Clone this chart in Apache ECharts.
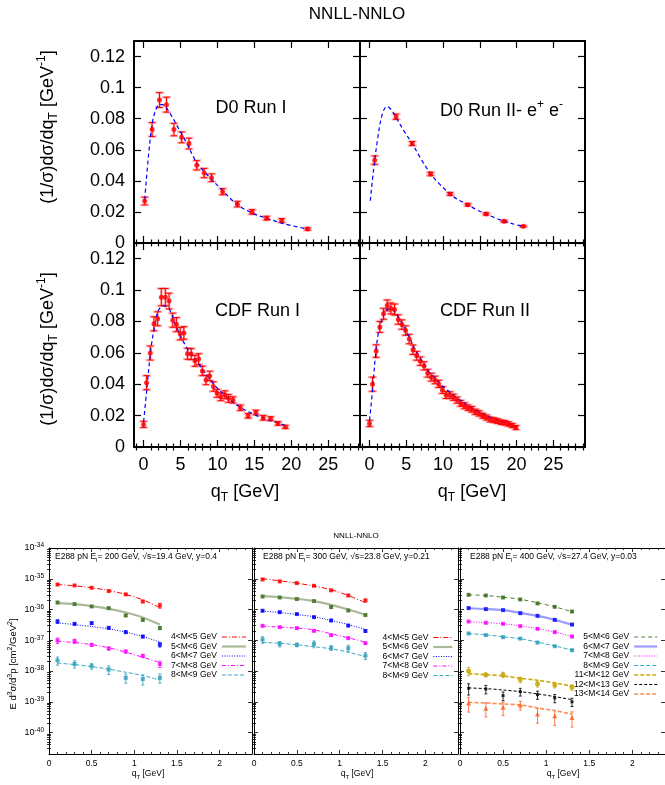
<!DOCTYPE html>
<html><head><meta charset="utf-8">
<script src="https://cdn.jsdelivr.net/npm/echarts@6/dist/echarts.min.js"></script>
<style>html,body{margin:0;padding:0;background:#fff}#c{width:665px;height:785px}</style>
</head><body><div id="c"></div>
<script>
// ---------------- top figure data ----------------
const topXMajor = [0, 5, 10, 15, 20, 25];
const topXMinor = [-1, 1, 2, 3, 4, 6, 7, 8, 9, 11, 12, 13, 14, 16, 17, 18, 19, 21, 22, 23, 24, 26, 27, 28, 29];
const topYMajor = [0, 0.02, 0.04, 0.06, 0.08, 0.1, 0.12];

const d0r1Q   = [0.15, 1.15, 2.15, 3.1, 4.1, 5.15, 6.15, 7.2, 8.2, 9.2, 10.7, 12.7, 14.7, 16.65, 18.7, 22.2];
const d0r1Y   = [0.027, 0.073, 0.092, 0.089, 0.073, 0.068, 0.064, 0.050, 0.045, 0.042, 0.033, 0.025, 0.020, 0.016, 0.0145, 0.009];
const d0r1Err = [0.0025, 0.0045, 0.0048, 0.0048, 0.004, 0.0035, 0.0035, 0.003, 0.003, 0.0025, 0.002, 0.0018, 0.0015, 0.0012, 0.0012, 0.0008];
const d0r1ThQ = [0.15, 0.7, 1.2, 1.6, 2.1, 2.6, 3.5, 4.65, 5.8, 7.15, 8.2, 9.4, 10.75, 12.6, 14.8, 16.65, 18.9, 22.2];
const d0r1ThY = [0.028, 0.058, 0.0777, 0.085, 0.089, 0.089, 0.084, 0.0744, 0.0646, 0.052, 0.046, 0.040, 0.0335, 0.025, 0.019, 0.016, 0.0125, 0.009];

const d0r2Q   = [0.7, 3.6, 5.8, 8.3, 10.95, 13.35, 15.85, 18.3, 20.9];
const d0r2Y   = [0.0533, 0.0813, 0.064, 0.0444, 0.0316, 0.0246, 0.0187, 0.014, 0.0107];
const d0r2Err = [0.0027, 0.0017, 0.0013, 0.0011, 0.0009, 0.0008, 0.0007, 0.0006, 0.0005];
const d0r2ThQ = [0.1, 0.54, 1.09, 1.68, 2.36, 3.04, 3.72, 4.7, 5.79, 7.0, 8.33, 9.5, 10.95, 12.0, 13.35, 14.5, 15.83, 17.0, 18.32, 19.5, 20.9];
const d0r2ThY = [0.0272, 0.047, 0.0668, 0.082, 0.0879, 0.0853, 0.0798, 0.072, 0.064, 0.054, 0.0444, 0.038, 0.0316, 0.028, 0.0246, 0.0215, 0.0187, 0.0163, 0.014, 0.0123, 0.0107];

const cdf1Q   = [0, 0.4, 0.9, 1.4, 1.9, 2.4, 2.95, 3.45, 3.95, 4.45, 4.95, 5.45, 5.95, 6.45, 6.95, 7.45, 7.95, 8.45, 8.95, 9.45, 9.95, 10.45, 11, 11.5, 12.1, 13.1, 14.15, 15.2, 16.2, 17.2, 18.2, 19.2];
const cdf1Y   = [0.0144, 0.041, 0.0599, 0.0785, 0.0817, 0.0955, 0.0955, 0.093, 0.0808, 0.078, 0.0722, 0.0727, 0.0594, 0.0592, 0.0549, 0.056, 0.0485, 0.0427, 0.0453, 0.0385, 0.0342, 0.032, 0.0333, 0.031, 0.030, 0.025, 0.0199, 0.022, 0.0186, 0.018, 0.015, 0.0128];
const cdf1Err = [0.002, 0.0045, 0.0045, 0.0045, 0.0045, 0.0055, 0.0055, 0.005, 0.0045, 0.0045, 0.004, 0.004, 0.0035, 0.0035, 0.0035, 0.0035, 0.003, 0.003, 0.003, 0.003, 0.0025, 0.0025, 0.0025, 0.0025, 0.002, 0.0018, 0.0015, 0.0015, 0.0015, 0.0013, 0.0012, 0.001];
const cdf1ThQ = [0, 0.4, 1.0, 1.5, 1.95, 2.6, 3.0, 3.5, 4.4, 5.8, 7.6, 9.4, 11.2, 13.0, 15.3, 17.1, 19.1];
const cdf1ThY = [0.016, 0.035, 0.063, 0.077, 0.0865, 0.090, 0.0895, 0.0876, 0.077, 0.0637, 0.052, 0.0406, 0.032, 0.0256, 0.020, 0.017, 0.0139];

const cdf2Q   = [0, 0.4, 0.9, 1.4, 1.9, 2.4, 2.9, 3.4, 3.9, 4.4, 4.9, 5.4, 5.9, 6.4, 6.9, 7.4, 7.9, 8.4, 8.9, 9.4, 9.9, 10.4, 10.9, 11.4, 11.9, 12.4, 12.9, 13.4, 13.9, 14.4, 14.9, 15.4, 15.9, 16.4, 16.9, 17.4, 17.9, 18.4, 18.9, 19.4, 19.9];
const cdf2Y   = [0.015, 0.040, 0.0611, 0.0765, 0.0849, 0.0902, 0.0883, 0.0876, 0.0812, 0.078, 0.0742, 0.0688, 0.062, 0.0581, 0.0547, 0.0517, 0.047, 0.0445, 0.0427, 0.0402, 0.0363, 0.0331, 0.0331, 0.0317, 0.0299, 0.0278, 0.0263, 0.025, 0.024, 0.0224, 0.0214, 0.0199, 0.0188, 0.0175, 0.0171, 0.0165, 0.0158, 0.0154, 0.0147, 0.0137, 0.0124];
const cdf2Err = [0.002, 0.0045, 0.004, 0.0035, 0.0035, 0.0035, 0.0035, 0.0035, 0.003, 0.003, 0.003, 0.003, 0.003, 0.0028, 0.0027, 0.0026, 0.0025, 0.0025, 0.0024, 0.0023, 0.0022, 0.0022, 0.0021, 0.002, 0.002, 0.0019, 0.0019, 0.0018, 0.0018, 0.0017, 0.0017, 0.0016, 0.0016, 0.0015, 0.0015, 0.0015, 0.0014, 0.0014, 0.0014, 0.0013, 0.0013];
const cdf2ThQ = [0, 0.4, 0.8, 1.2, 1.7, 2.3, 2.8, 3.4, 4.0, 4.5, 5, 5.5, 6, 7, 8, 9, 10, 11, 12, 13, 14, 15, 16, 17, 18, 19, 20];
const cdf2ThY = [0.017, 0.036, 0.058, 0.0727, 0.081, 0.0876, 0.088, 0.0865, 0.082, 0.078, 0.0735, 0.069, 0.064, 0.056, 0.0485, 0.0435, 0.0385, 0.0345, 0.031, 0.0275, 0.0245, 0.0222, 0.0198, 0.0178, 0.016, 0.0145, 0.0127];

// ---------------- bottom figure (E288) data ----------------
const botXMajor = [0, 0.5, 1, 1.5, 2];
const botXMinor = [0.1, 0.2, 0.3, 0.4, 0.6, 0.7, 0.8, 0.9, 1.1, 1.2, 1.3, 1.4, 1.6, 1.7, 1.8, 1.9, 2.1, 2.2, 2.3];
const botYDecades = [-40, -39, -38, -37, -36, -35, -34];   // tick labels 10^n
const e288Q = [0.1, 0.3, 0.5, 0.7, 0.9, 1.1, 1.3];

// E_l = 200 GeV
const e200M45 = [6.5e-36, 6.05e-36, 5.1e-36, 3.98e-36, 3.1e-36, 1.82e-36, 1.35e-36];
const e200M45Err = [4e-37, 3e-37, 2.5e-37, 2e-37, 1.8e-37, 1.5e-37, 2.5e-37];
const e200M45Th = [6.5e-36, 5.9e-36, 5.1e-36, 4.16e-36, 3.09e-36, 2.07e-36, 1.14e-36];
const e200M56 = [1.69e-36, 1.5e-36, 1.26e-36, 1.11e-36, 6.4e-37, 4.6e-37, 2.5e-37];
const e200M56Err = [1e-37, 8e-38, 7e-38, 6e-38, 5e-38, 4e-38, 3e-38];
const e200M56Th = [1.62e-36, 1.5e-36, 1.29e-36, 1.05e-36, 7.98e-37, 5.5e-37, 3.24e-37];
const e200M67 = [4.07e-37, 3.4e-37, 3.6e-37, 2.53e-37, 1.84e-37, 1.32e-37, 7.2e-38];
const e200M67Err = [5e-38, 2.5e-38, 3e-38, 2e-38, 1.6e-38, 1.2e-38, 1.2e-38];
const e200M67Th = [3.69e-37, 3.24e-37, 2.79e-37, 2.35e-37, 1.84e-37, 1.32e-37, 8.7e-38];
const e200M78 = [9.8e-38, 9.3e-38, 7.1e-38, 5.4e-38, 4.3e-38, 3.1e-38, 1.7e-38];
const e200M78Err = [2e-38, 1.5e-38, 8e-39, 6e-39, 5e-39, 4e-39, 4e-39];
const e200M78Th = [9.3e-38, 8.4e-38, 7.2e-38, 5.7e-38, 4.1e-38, 2.8e-38, 1.9e-38];
const e200M89 = [2.2e-38, 1.7e-38, 1.44e-38, 1.12e-38, 6e-39, 5.5e-39, 6e-39];
const e200M89Err = [6.5e-39, 4.5e-39, 3e-39, 3.5e-39, 2e-39, 2e-39, 2e-39];
const e200M89Th = [1.8e-38, 1.62e-38, 1.39e-38, 1.15e-38, 9.1e-39, 7.1e-39, 5.1e-39];

// E_l = 300 GeV
const e300M45 = [9.5e-36, 8.2e-36, 7.2e-36, 5.9e-36, 4.2e-36, 2.86e-36, 1.96e-36];
const e300M45Err = [5e-37, 4e-37, 3e-37, 3e-37, 2.5e-37, 2e-37, 2e-37];
const e300M45Th = [1.0e-35, 8.6e-36, 7.2e-36, 5.8e-36, 4.4e-36, 2.86e-36, 1.66e-36];
const e300M56 = [2.65e-36, 2.46e-36, 2.19e-36, 1.88e-36, 1.2e-36, 9.3e-37, 6.6e-37];
const e300M56Err = [1.2e-37, 1e-37, 1e-37, 9e-38, 8e-38, 6e-38, 4e-38];
const e300M56Th = [2.73e-36, 2.54e-36, 2.23e-36, 1.88e-36, 1.42e-36, 1.0e-36, 6.7e-37];
const e300M67 = [9.1e-37, 8.2e-37, 7.1e-37, 5.65e-37, 4.4e-37, 3.0e-37, 2.0e-37];
const e300M67Err = [4e-38, 4e-38, 3e-38, 3e-38, 2.5e-38, 2e-38, 1.5e-38];
const e300M67Th = [8.9e-37, 8.0e-37, 6.9e-37, 5.8e-37, 4.4e-37, 3.24e-37, 2.24e-37];
const e300M78 = [2.95e-37, 2.67e-37, 2.48e-37, 2.02e-37, 1.47e-37, 1.17e-37, 8.05e-38];
const e300M78Err = [1.5e-38, 1.2e-38, 1.2e-38, 1e-38, 8e-39, 7e-39, 6e-39];
const e300M78Th = [2.88e-37, 2.67e-37, 2.48e-37, 2.19e-37, 1.62e-37, 1.2e-37, 8.7e-38];
const e300M89 = [1.05e-37, 7.6e-38, 7.1e-38, 7.6e-38, 5.65e-38, 5.5e-38, 3.16e-38];
const e300M89Err = [2.5e-38, 1.5e-38, 1e-38, 1.9e-38, 1e-38, 1.4e-38, 8e-39];
const e300M89Th = [8.4e-38, 8.05e-38, 7.1e-38, 6.2e-38, 5.25e-38, 4.1e-38, 2.9e-38];

// E_l = 400 GeV
const e400M56 = [3.0e-36, 2.86e-36, 2.46e-36, 2.12e-36, 1.58e-36, 1.22e-36, 8.6e-37];
const e400M56Err = [1.2e-37, 1e-37, 1e-37, 9e-38, 7e-38, 6e-38, 5e-38];
const e400M56Th = [3.0e-36, 2.85e-36, 2.5e-36, 2.15e-36, 1.65e-36, 1.22e-36, 8.5e-37];
const e400M67 = [1.11e-36, 1.03e-36, 9.55e-37, 7.6e-37, 6.2e-37, 4.6e-37, 3.24e-37];
const e400M67Err = [4e-38, 4e-38, 3e-38, 3e-38, 2.5e-38, 2e-38, 1.5e-38];
const e400M67Th = [1.1e-36, 1.04e-36, 9.5e-37, 7.8e-37, 6.2e-37, 4.6e-37, 3.2e-37];
const e400M78 = [4.07e-37, 3.7e-37, 3.42e-37, 2.88e-37, 2.35e-37, 1.84e-37, 1.32e-37];
const e400M78Err = [1.5e-38, 1.5e-38, 1.2e-38, 1e-38, 1e-38, 8e-39, 6e-39];
const e400M78Th = [4.0e-37, 3.75e-37, 3.45e-37, 2.95e-37, 2.4e-37, 1.85e-37, 1.32e-37];
const e400M89 = [1.66e-37, 1.47e-37, 1.26e-37, 1.13e-37, 8.4e-38, 6.4e-38, 4.76e-38];
const e400M89Err = [6e-39, 6e-39, 5e-39, 5e-39, 4e-39, 3e-39, 2.5e-39];
const e400M89Th = [1.65e-37, 1.5e-37, 1.3e-37, 1.12e-37, 8.7e-38, 6.5e-38, 4.8e-38];
const e400M1112 = [1.0e-38, 7.5e-39, 7.6e-39, 5.25e-39, 3.8e-39, 3.5e-39, 2.96e-39];
const e400M1112Err = [3e-39, 1.1e-39, 1.5e-39, 1.1e-39, 8e-40, 7e-40, 6e-40];
const e400M1112Th = [8.2e-39, 7.6e-39, 6.9e-39, 5.8e-39, 5.0e-39, 4.1e-39, 3.2e-39];
const e400M1213 = [2.75e-39, 2.6e-39, 1.58e-39, 2.13e-39, 1.7e-39, 1.33e-39, 1.0e-39];
const e400M1213Err = [1.1e-39, 8e-40, 5e-40, 6e-40, 5e-40, 4e-40, 3e-40];
const e400M1213Th = [2.82e-39, 2.67e-39, 2.42e-39, 2.13e-39, 1.8e-39, 1.47e-39, 1.17e-39];
const e400M1314 = [9.1e-40, 6.2e-40, 6.6e-40, 7.9e-40, 4.0e-40, 3.5e-40, 3.1e-40];
const e400M1314Err = [4.5e-40, 3e-40, 3e-40, 2.5e-40, 2e-40, 1.8e-40, 1.6e-40];
const e400M1314Th = [9.6e-40, 9.1e-40, 8.5e-40, 7.85e-40, 6.3e-40, 5.1e-40, 4.0e-40];

// ---------------- build ----------------
const FONT = '"Liberation Sans", Arial, Helvetica, sans-serif';
const grids = [], xAxes = [], yAxes = [], series = [], legends = [];
function addGrid(r) { grids.push(Object.assign({containLabel: false}, r)); return grids.length - 1; }
function addX(o) { xAxes.push(o); return xAxes.length - 1; }
function addY(o) { yAxes.push(o); return yAxes.length - 1; }
const zip = (a, b) => a.map((v, i) => [v, b[i]]);

function panelAxes(rect, cfg) {
  const g = addGrid(rect);
  const lineOn = {show: true, onZero: false, lineStyle: {color: '#000', width: cfg.border}};
  const tk = (vals, len) => ({show: true, inside: true, length: len, customValues: vals, lineStyle: {color: '#000', width: cfg.tickW}});
  const hidden = {splitLine: {show: false}, axisLine: {show: false}, axisLabel: {show: false}, axisTick: {show: false}};
  const xb = Object.assign({gridIndex: g, type: 'value', min: cfg.xmin, max: cfg.xmax}, hidden);
  const xi = addX(Object.assign({}, xb, {position: 'bottom', axisLine: lineOn, axisTick: tk(cfg.xMaj, cfg.majLen),
    axisLabel: {show: cfg.showX, customValues: cfg.xMaj, color: '#000', fontSize: cfg.fs, fontFamily: FONT, margin: cfg.xMargin}}));
  addX(Object.assign({}, xb, {position: 'top', axisLine: lineOn, axisTick: tk(cfg.xMaj, cfg.majLen)}));
  addX(Object.assign({}, xb, {position: 'bottom', axisTick: tk(cfg.xMin, cfg.minLen)}));
  addX(Object.assign({}, xb, {position: 'top', axisTick: tk(cfg.xMin, cfg.minLen)}));
  let yi;
  if (cfg.dataY) yi = addY(Object.assign({gridIndex: g, position: 'left'}, cfg.dataY, hidden));
  const yb = Object.assign({gridIndex: g, type: 'value', min: cfg.ymin, max: cfg.ymax}, hidden);
  const yl = addY(Object.assign({}, yb, {position: 'left', axisLine: lineOn, axisTick: tk(cfg.yMaj, cfg.majLen),
    axisLabel: Object.assign({show: cfg.showY, customValues: cfg.yMaj, color: '#000', fontSize: cfg.fs, fontFamily: FONT, margin: cfg.yMargin}, cfg.yLabelExtra || {})}));
  if (!cfg.dataY) yi = yl;
  addY(Object.assign({}, yb, {position: 'right', axisLine: lineOn, axisTick: tk(cfg.yMaj, cfg.majLen)}));
  if (cfg.yMin) {
    addY(Object.assign({}, yb, {position: 'left', axisTick: tk(cfg.yMin, cfg.minLen)}));
    addY(Object.assign({}, yb, {position: 'right', axisTick: tk(cfg.yMin, cfg.minLen)}));
  }
  return {xi, yi};
}

function errSeries(ax, xs, ys, es, color, capW, lw, z, isLog) {
  return {type: 'custom', xAxisIndex: ax.xi, yAxisIndex: ax.yi, z: z, silent: true,
    data: xs.map((x, i) => {
      let lo = ys[i] - es[i];
      if (isLog && lo <= 0) lo = ys[i] * 0.05;
      return [x, lo, ys[i] + es[i]];
    }),
    encode: {x: 0, y: [1, 2]},
    renderItem: (p, api) => {
      const a = api.coord([api.value(0), api.value(1)]);
      const b = api.coord([api.value(0), api.value(2)]);
      const st = {stroke: color, lineWidth: lw, fill: null};
      return {type: 'group', children: [
        {type: 'line', shape: {x1: a[0], y1: a[1], x2: b[0], y2: b[1]}, style: st},
        {type: 'line', shape: {x1: a[0] - capW, y1: a[1], x2: a[0] + capW, y2: a[1]}, style: st},
        {type: 'line', shape: {x1: b[0] - capW, y1: b[1], x2: b[0] + capW, y2: b[1]}, style: st}
      ]};
    }};
}

// ---- top figure panels ----
const topCfg = (showX, showY) => ({xmin: -1.3, xmax: 29.3, ymin: 0, ymax: 0.13,
  xMaj: topXMajor, xMin: topXMinor, yMaj: topYMajor, yMin: null, showX, showY,
  border: 2, tickW: 1.2, majLen: 7, minLen: 3.5, fs: 18, xMargin: 9, yMargin: 9});
const pTL = panelAxes({left: 134, top: 41, width: 226, height: 202}, topCfg(false, true));
const pTR = panelAxes({left: 360, top: 41, width: 225, height: 202}, topCfg(false, false));
const pBL = panelAxes({left: 134, top: 243, width: 226, height: 204}, topCfg(true, true));
const pBR = panelAxes({left: 360, top: 243, width: 225, height: 204}, topCfg(true, false));

function topData(ax, q, y, e, tq, ty) {
  series.push(errSeries(ax, q, y, e, 'rgba(255,90,90,0.45)', 4.5, 2.5, 2, false));
  series.push(errSeries(ax, q, y, e, '#ff0000', 3, 1, 3, false));
  series.push({type: 'line', xAxisIndex: ax.xi, yAxisIndex: ax.yi, z: 4, data: zip(tq, ty), showSymbol: false, symbol: 'none', smooth: 0.35, silent: true,
    lineStyle: {color: '#0000ff', width: 1.2, type: [4, 3]}});
  series.push({type: 'scatter', xAxisIndex: ax.xi, yAxisIndex: ax.yi, z: 5, data: zip(q, y), symbol: 'circle', symbolSize: 5, silent: true,
    itemStyle: {color: '#ff0000'}});
}
topData(pTL, d0r1Q, d0r1Y, d0r1Err, d0r1ThQ, d0r1ThY);
topData(pTR, d0r2Q, d0r2Y, d0r2Err, d0r2ThQ, d0r2ThY);
topData(pBL, cdf1Q, cdf1Y, cdf1Err, cdf1ThQ, cdf1ThY);
topData(pBR, cdf2Q, cdf2Y, cdf2Err, cdf2ThQ, cdf2ThY);

// ---- bottom figure panels (log data axis + exponent axis for ticks/labels) ----
const Y_LO = 2e-41, Y_HI = 1e-34;
const yExpMinor = [];
for (let n = -41; n <= -35; n++) for (let k = 2; k <= 9; k++) {
  const v = Math.log10(k) + n; if (v > Math.log10(Y_LO) && v < -34) yExpMinor.push(v);
}
const botCfg = (showY) => ({xmin: 0, xmax: 2.38, ymin: Math.log10(Y_LO), ymax: Math.log10(Y_HI),
  dataY: {type: 'log', logBase: 10, min: Y_LO, max: Y_HI},
  xMaj: botXMajor, xMin: botXMinor, yMaj: botYDecades, yMin: yExpMinor, showX: true, showY,
  border: 1, tickW: 0.8, majLen: 4, minLen: 2, fs: 8.5, xMargin: 5, yMargin: 5,
  yLabelExtra: {formatter: v => '{b|10}{s|' + Math.round(v) + '}', rich: {
    b: {fontSize: 9, fontFamily: FONT, color: '#000', lineHeight: 12},
    s: {fontSize: 6.5, fontFamily: FONT, color: '#000', lineHeight: 6.5, verticalAlign: 'top'}}}});
const pE1 = panelAxes({left: 49, top: 548, width: 203, height: 206}, botCfg(true));
const pE2 = panelAxes({left: 254, top: 548, width: 204, height: 206}, botCfg(false));
const pE3 = panelAxes({left: 460, top: 548, width: 206, height: 206}, botCfg(false));

const ST = {
  red:       {pc: '#ff0000', lc: '#ff0000', lw: 1, lt: [5, 2, 1, 2], sym: 'rect', ss: 4},
  greenSol:  {pc: '#3b6e1c', lc: '#a9b99a', lw: 2.2, lt: 'solid', sym: 'rect', ss: 4},
  blueDot:   {pc: '#0000ff', lc: '#0000ff', lw: 1, lt: [1, 1.5], sym: 'rect', ss: 4},
  magDD:     {pc: '#ff00ff', lc: '#ff00ff', lw: 1, lt: [4, 2, 1, 2], sym: 'rect', ss: 4},
  cyanDash:  {pc: '#2b9cbc', lc: '#3aa6c6', lw: 1, lt: [4, 2], sym: 'rect', ss: 4},
  greenDash: {pc: '#3b6e1c', lc: '#4e7d32', lw: 1, lt: [4, 3], sym: 'rect', ss: 4},
  blueSol:   {pc: '#0000ff', lc: '#9a9aff', lw: 2.2, lt: 'solid', sym: 'rect', ss: 4},
  magDot:    {pc: '#ff00ff', lc: '#ff00ff', lw: 1, lt: [1, 1.5], sym: 'rect', ss: 4},
  gold:      {pc: '#c2a400', lc: '#c8aa10', lw: 1.6, lt: [4, 2], sym: 'circle', ss: 5},
  black:     {pc: '#000000', lc: '#000000', lw: 1, lt: [3, 2], sym: 'rect', ss: 3},
  orange:    {pc: '#ff5a1f', lc: '#ff8a50', lw: 1.6, lt: [4, 2], sym: 'triangle', ss: 5}
};

function e288Set(ax, tag, name, vals, errs, th, st) {
  const nm = name + '#' + tag;
  series.push(errSeries(ax, e288Q, vals, errs, st.pc, 1.5, 0.8, 2, true));
  series.push({type: 'line', name: nm, xAxisIndex: ax.xi, yAxisIndex: ax.yi, z: 3, data: zip(e288Q, th), showSymbol: false, symbol: 'none', smooth: 0.3, silent: true,
    lineStyle: {color: st.lc, width: st.lw, type: st.lt}, itemStyle: {color: st.lc}});
  series.push({type: 'scatter', xAxisIndex: ax.xi, yAxisIndex: ax.yi, z: 4, data: zip(e288Q, vals), symbol: st.sym, symbolSize: st.ss, silent: true,
    itemStyle: {color: st.pc}});
  return nm;
}
const L1 = [
  e288Set(pE1, 'a', '4<M<5 GeV', e200M45, e200M45Err, e200M45Th, ST.red),
  e288Set(pE1, 'a', '5<M<6 GeV', e200M56, e200M56Err, e200M56Th, ST.greenSol),
  e288Set(pE1, 'a', '6<M<7 GeV', e200M67, e200M67Err, e200M67Th, ST.blueDot),
  e288Set(pE1, 'a', '7<M<8 GeV', e200M78, e200M78Err, e200M78Th, ST.magDD),
  e288Set(pE1, 'a', '8<M<9 GeV', e200M89, e200M89Err, e200M89Th, ST.cyanDash)];
const L2 = [
  e288Set(pE2, 'b', '4<M<5 GeV', e300M45, e300M45Err, e300M45Th, ST.red),
  e288Set(pE2, 'b', '5<M<6 GeV', e300M56, e300M56Err, e300M56Th, ST.greenSol),
  e288Set(pE2, 'b', '6<M<7 GeV', e300M67, e300M67Err, e300M67Th, ST.blueDot),
  e288Set(pE2, 'b', '7<M<8 GeV', e300M78, e300M78Err, e300M78Th, ST.magDD),
  e288Set(pE2, 'b', '8<M<9 GeV', e300M89, e300M89Err, e300M89Th, ST.cyanDash)];
const L3 = [
  e288Set(pE3, 'c', '5<M<6 GeV', e400M56, e400M56Err, e400M56Th, ST.greenDash),
  e288Set(pE3, 'c', '6<M<7 GeV', e400M67, e400M67Err, e400M67Th, ST.blueSol),
  e288Set(pE3, 'c', '7<M<8 GeV', e400M78, e400M78Err, e400M78Th, ST.magDot),
  e288Set(pE3, 'c', '8<M<9 GeV', e400M89, e400M89Err, e400M89Th, ST.cyanDash),
  e288Set(pE3, 'c', '11<M<12 GeV', e400M1112, e400M1112Err, e400M1112Th, ST.gold),
  e288Set(pE3, 'c', '12<M<13 GeV', e400M1213, e400M1213Err, e400M1213Th, ST.black),
  e288Set(pE3, 'c', '13<M<14 GeV', e400M1314, e400M1314Err, e400M1314Th, ST.orange)];

function legendAt(names, right, top, iw) {
  return {data: names, orient: 'vertical', right: right, top: top, align: 'right', padding: 0,
    itemWidth: iw, itemHeight: 8, itemGap: 0.5, selectedMode: false, formatter: n => n.split('#')[0],
    textStyle: {fontSize: 8.5, fontFamily: FONT, color: '#000', lineHeight: 8, padding: 0},
    itemStyle: {opacity: 0, borderWidth: 0},
    lineStyle: {width: 'inherit', type: 'inherit', opacity: 1}};
}
legends.push(legendAt(L1, 418, 632.5, 24));
legends.push(legendAt(L2, 211.5, 633, 19));
legends.push(legendAt(L3, 6.7, 632.5, 23));

// ---- texts ----
const richTop = {
  sub: {fontSize: 12, fontFamily: FONT, fill: '#000', lineHeight: 12, verticalAlign: 'bottom'},
  sup: {fontSize: 12, fontFamily: FONT, fill: '#000', lineHeight: 12, verticalAlign: 'top'}};
const richBot = {
  sub: {fontSize: 6, fontFamily: FONT, fill: '#000', lineHeight: 6, verticalAlign: 'bottom'},
  sup: {fontSize: 6.5, fontFamily: FONT, fill: '#000', lineHeight: 6.5, verticalAlign: 'top'}};
const richBotL = {
  sup: {fontSize: 7, fontFamily: FONT, fill: '#000', lineHeight: 7, verticalAlign: 'top'}};
function txt(x, y, text, fs, align, rich, rot, lh) {
  return {type: 'text', x: x, y: y, rotation: rot || 0, silent: true,
    style: {text: text, fontSize: fs, fontFamily: FONT, fill: '#000', align: align, verticalAlign: 'middle',
      lineHeight: lh || Math.round(fs * 1.3), rich: rich}};
}
const graphics = [
  txt(357, 14, 'NNLL-NNLO', 17, 'center'),
  txt(48, 127, '(1/σ)dσ/dq{sub|T} [GeV{sup|-1}]', 18, 'center', richTop, Math.PI / 2, 24),
  txt(48, 349, '(1/σ)dσ/dq{sub|T} [GeV{sup|-1}]', 18, 'center', richTop, Math.PI / 2, 24),
  txt(251, 108, 'D0 Run I', 18, 'center'),
  txt(440, 111, 'D0 Run II- e{sup|+} e{sup|-}', 18, 'left', richTop, 0, 24),
  txt(215, 311, 'CDF Run I', 18, 'left'),
  txt(440, 311, 'CDF Run II', 18, 'left'),
  txt(245, 492, 'q{sub|T} [GeV]', 18, 'center', richTop, 0, 24),
  txt(472, 492, 'q{sub|T} [GeV]', 18, 'center', richTop, 0, 24),
  txt(356, 536, 'NNLL-NNLO', 8, 'center'),
  txt(55, 557, 'E288 pN E{sub|l}= 200 GeV, √s=19.4 GeV, y=0.4', 8.5, 'left', richBot, 0, 12),
  txt(263, 557, 'E288 pN E{sub|l}= 300 GeV, √s=23.8 GeV, y=0.21', 8.5, 'left', richBot, 0, 12),
  txt(470, 557, 'E288 pN E{sub|l}= 400 GeV, √s=27.4 GeV, y=0.03', 8.5, 'left', richBot, 0, 12),
  txt(13, 664, 'E d{sup|3}σ/d{sup|3}p [cm{sup|2}/GeV{sup|2}]', 9.5, 'center', richBotL, Math.PI / 2, 13),
  txt(148, 774, 'q{sub|T} [GeV]', 8.5, 'center', richBot, 0, 12),
  txt(357, 774, 'q{sub|T} [GeV]', 8.5, 'center', richBot, 0, 12),
  txt(563, 774, 'q{sub|T} [GeV]', 8.5, 'center', richBot, 0, 12)
];

const chart = echarts.init(document.getElementById('c'), null, {renderer: 'canvas', width: 665, height: 785});
chart.setOption({animation: false, backgroundColor: '#fff', grid: grids, xAxis: xAxes, yAxis: yAxes,
  legend: legends, series: series, graphic: graphics});
</script></body></html>
